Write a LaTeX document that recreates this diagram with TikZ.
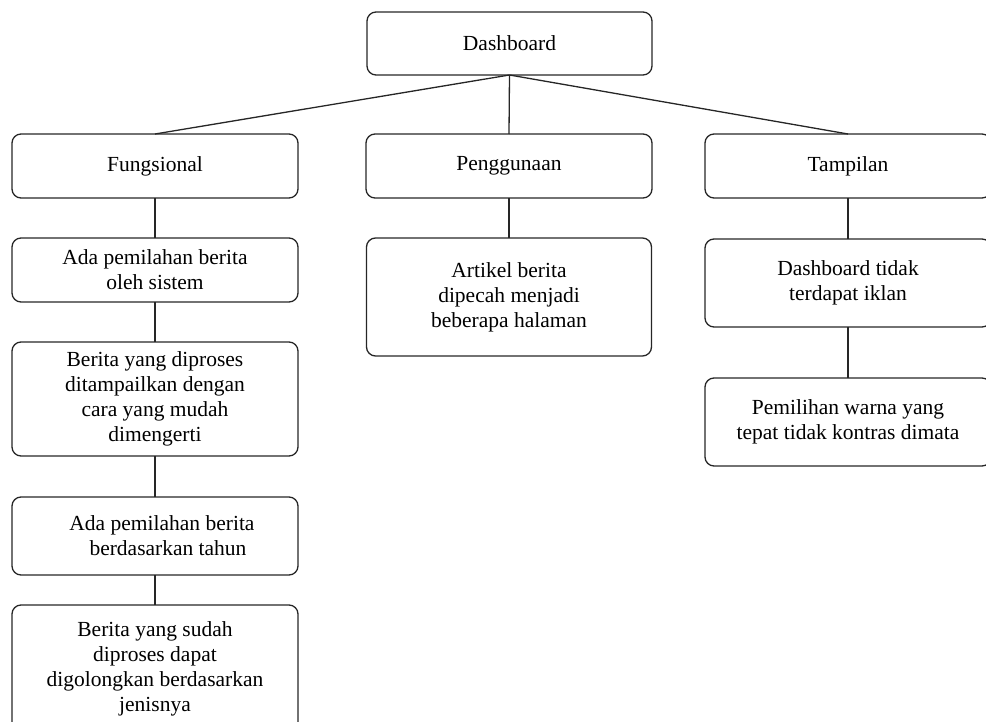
\documentclass[tikz,border=0pt]{standalone}
\usepackage{fontspec}
\setmainfont{Liberation Serif}
\begin{document}
\begin{tikzpicture}[x=1pt,y=-1pt,
  box/.style={draw=black!85, line width=1.3pt, rounded corners=9pt, inner sep=0pt, outer sep=0pt,
    align=center, font=\fontsize{21.5}{25}\selectfont, text=black},
  conn/.style={draw=black!85, line width=1.3pt}]
\useasboundingbox (0,0) rectangle (986,722);
\clip (0,0) rectangle (986,722);
\node[box, minimum width=285pt, minimum height=63pt] (dash) at (509.5,43.5) {Dashboard};
\node[box, minimum width=286pt, minimum height=64pt] (fung) at (155,166) {Fungsional};
\node[box, minimum width=286pt, minimum height=64pt] (peng) at (509,166) {Penggunaan};
\node[box, minimum width=286pt, minimum height=64pt] (tamp) at (848,166) {Tampilan};
\node[box, minimum width=286pt, minimum height=64pt] (ada1) at (155,270) {Ada pemilahan berita\\oleh sistem};
\node[box, minimum width=286pt, minimum height=114pt] (proses) at (155,399) {Berita yang diproses\\ditampailkan dengan\\cara yang mudah\\dimengerti};
\node[box, minimum width=286pt, minimum height=78pt] (ada2) at (155,536) {\hspace*{14pt}Ada pemilahan berita\\\hspace*{26pt}berdasarkan tahun};
\node[box, minimum width=286pt, minimum height=127pt] (sudah) at (155,668.5) {Berita yang sudah\\diproses dapat\\digolongkan berdasarkan\\jenisnya};
\node[box, minimum width=285pt, minimum height=118pt] (artikel) at (509,297) {Artikel berita\\dipecah menjadi\\beberapa halaman};
\node[box, minimum width=286pt, minimum height=88pt] (tidak) at (848,283) {Dashboard tidak\\terdapat iklan};
\node[box, minimum width=286pt, minimum height=88pt] (warna) at (848,422) {Pemilihan warna yang\\tepat tidak kontras dimata};
\draw[conn] (dash.south) -- (fung.north);
\draw[conn] (dash.south) -- (peng.north);
\draw[conn] (dash.south) -- (tamp.north);
\draw[conn] (fung) -- (ada1);
\draw[conn] (ada1) -- (proses);
\draw[conn] (proses) -- (ada2);
\draw[conn] (ada2) -- (sudah);
\draw[conn] (peng) -- (artikel);
\draw[conn] (tamp) -- (tidak);
\draw[conn] (tidak) -- (warna);
\end{tikzpicture}
\end{document}
